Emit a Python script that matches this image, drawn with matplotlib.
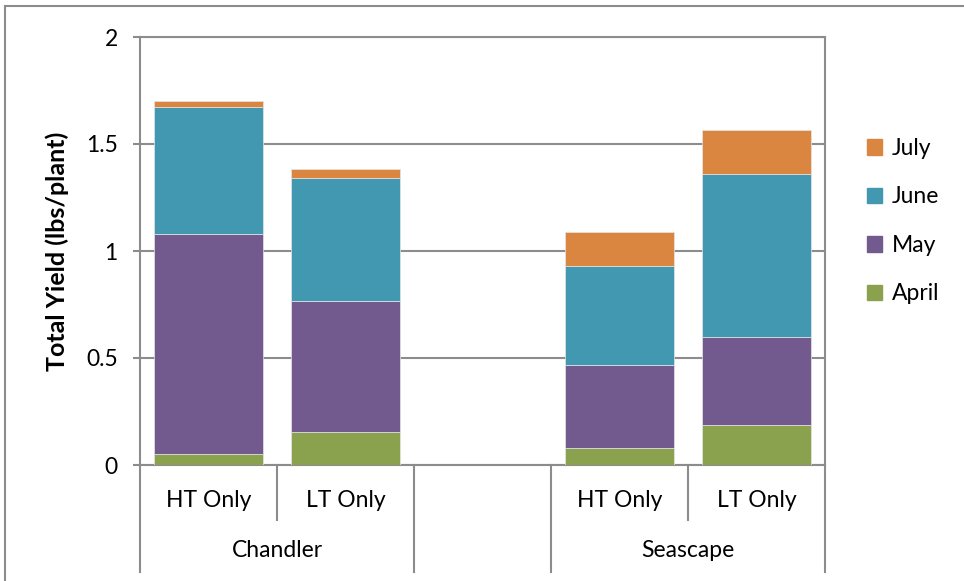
import numpy as np
import matplotlib
matplotlib.use('Agg')
import matplotlib.pyplot as plt
from matplotlib.lines import Line2D
from matplotlib.patches import Patch

plt.rcParams['font.family'] = ['Lato', 'DejaVu Sans']

# Category axis: two levels, with an empty slot between the cultivars
treatments = ['HT Only', 'LT Only', '', 'HT Only', 'LT Only']
cultivars = ['Chandler', '', 'Seascape']
cultivar_sizes = [2, 1, 2]

# Monthly yield (lbs/plant), stacked; nan = empty slot
april = [0.050, 0.152, np.nan, 0.078, 0.186]
may = [1.029, 0.613, np.nan, 0.391, 0.413]
june = [0.592, 0.578, np.nan, 0.463, 0.760]
july = [0.029, 0.039, np.nan, 0.156, 0.205]

series = [('April', april, '#8AA24D'),
          ('May', may, '#72598E'),
          ('June', june, '#4298B0'),
          ('July', july, '#DA8540')]

grey = '#8C8C8C'
fs = 16.5

fig = plt.figure(figsize=(9.64, 5.81), dpi=100)
W, H = 964, 581
ax = fig.add_axes([140 / W, 1 - 465 / H, (825 - 140) / W, (465 - 37) / H])

x = np.arange(len(treatments))
bottom = np.zeros(len(treatments))
for name, vals, col in series:
    v = np.array(vals, dtype=float)
    ax.bar(x, v, 0.8, bottom=bottom, color=col, edgecolor='#E6E6E6',
           linewidth=0.5, label=name, zorder=3)
    bottom = bottom + np.nan_to_num(v)

ax.set_xlim(-0.5, len(treatments) - 0.5)
ax.set_ylim(0, 2)
ax.set_yticks([0, 0.5, 1, 1.5, 2])
ax.set_yticklabels(['0', '0.5', '1', '1.5', '2'])
ax.tick_params(axis='y', length=5, width=1.5, color=grey, labelsize=fs,
               pad=11, direction='out')
ax.set_xticks([])
ax.grid(axis='y', color=grey, linewidth=1.5, zorder=0)
for s in ax.spines.values():
    s.set_color(grey)
    s.set_linewidth(1.5)

ax.set_ylabel('Total Yield (lbs/plant)', fontsize=18, fontweight='bold',
              labelpad=12)

# multi-level category labels
row1 = -0.082
row2 = -0.199
short_end = -0.128
long_end = -0.25
trans = ax.get_xaxis_transform()
for i, lab in enumerate(treatments):
    ax.text(i, row1, lab, transform=trans, ha='center', va='center',
            fontsize=fs)

edges = np.cumsum([0] + cultivar_sizes) - 0.5
group_edges = set(edges.tolist())
for b in np.arange(len(treatments) + 1) - 0.5:
    end = long_end if b in group_edges else short_end
    ax.add_line(Line2D([b, b], [0, end], transform=trans, color=grey,
                       linewidth=1.5, clip_on=False))

for j, lab in enumerate(cultivars):
    centre = (edges[j] + edges[j + 1]) / 2
    ax.text(centre, row2, lab, transform=trans, ha='center', va='center',
            fontsize=fs)

# legend, months top to bottom July..April
handles = [Patch(color=col, label=name) for name, vals, col in series[::-1]]
fig.legend(handles=handles, loc='upper left',
           bbox_to_anchor=(867 / W, 1 - 138 / H), frameon=False,
           borderaxespad=0, borderpad=0,
           fontsize=fs, handlelength=0.65, handleheight=0.65,
           handletextpad=0.45, labelspacing=1.2)

# chart area border (left and top only visible)
fig.add_artist(Line2D([5 / W, 5 / W], [0, 1 - 6 / H], transform=fig.transFigure,
                      color=grey, linewidth=1.5))
fig.add_artist(Line2D([5 / W, 1], [1 - 6 / H, 1 - 6 / H], transform=fig.transFigure,
                      color=grey, linewidth=1.5))

fig.savefig('out.png', dpi=100)
